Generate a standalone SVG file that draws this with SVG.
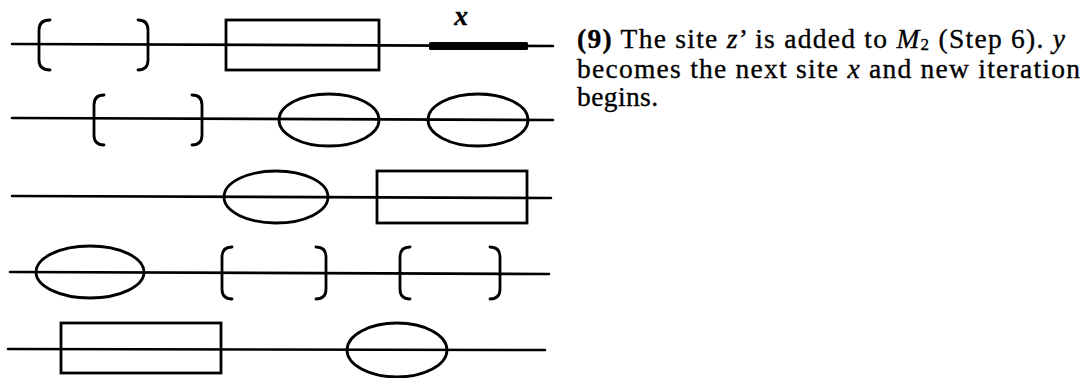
<svg xmlns="http://www.w3.org/2000/svg" width="1088" height="378" viewBox="0 0 1088 378">
  <style>
    .strand { stroke: #000; stroke-width: 2.6; fill: none; stroke-linecap: round; }
    .shape { stroke: #000; stroke-width: 2.8; fill: none; }
    .bracket { stroke: #000; stroke-width: 2.8; fill: none; stroke-linecap: round; }
    .caption { font-family: "Liberation Serif", "Times New Roman", serif; font-size: 27.5px; fill: #000; stroke: #000; stroke-width: 0.35; }
    .it { font-style: italic; }
    .bd { font-weight: bold; }
  </style>
  <rect width="1088" height="378" fill="#fff"/>

  <!-- horizontal strands -->
  <g id="connectors">
    <line class="strand" x1="12" y1="44" x2="553" y2="46"/>
    <line class="strand" x1="12" y1="118" x2="553" y2="120"/>
    <line class="strand" x1="12" y1="196" x2="551" y2="198"/>
    <line class="strand" x1="10" y1="272" x2="549" y2="274"/>
    <line class="strand" x1="8" y1="349" x2="545" y2="350"/>
  </g>

  <!-- row 1 -->
  <g id="r1-bracket-open"><path class="bracket" d="M50 20 Q39 20 39 30 L39 60 Q39 70 50 70"/></g>
  <g id="r1-bracket-close"><path class="bracket" d="M138 20 Q148 20 148 30 L148 60 Q148 70 138 70"/></g>
  <g id="r1-rect"><rect class="shape" x="226" y="20" width="153" height="50"/></g>
  <g id="r1-site-x">
    <rect x="429" y="42" width="99" height="8" rx="1.5" fill="#000"/>
    <text x="461" y="25" text-anchor="middle" class="caption it bd" font-size="27">x</text>
  </g>

  <!-- row 2 -->
  <g id="r2-bracket-open"><path class="bracket" d="M104 95 Q94 95 94 105 L94 135 Q94 145 104 145"/></g>
  <g id="r2-bracket-close"><path class="bracket" d="M192 95 Q202 95 202 105 L202 135 Q202 145 192 145"/></g>
  <g id="r2-ellipse-a"><ellipse class="shape" cx="329" cy="120" rx="50" ry="26"/></g>
  <g id="r2-ellipse-b"><ellipse class="shape" cx="478" cy="120" rx="50" ry="26"/></g>

  <!-- row 3 -->
  <g id="r3-ellipse"><ellipse class="shape" cx="276" cy="197" rx="52" ry="26"/></g>
  <g id="r3-rect"><rect class="shape" x="377" y="171" width="150" height="52"/></g>

  <!-- row 4 -->
  <g id="r4-ellipse"><ellipse class="shape" cx="90" cy="272" rx="54" ry="26"/></g>
  <g id="r4-bracket-open-a"><path class="bracket" d="M232 247 Q222 247 222 257 L222 289 Q222 299 232 299"/></g>
  <g id="r4-bracket-close-a"><path class="bracket" d="M316 247 Q326 247 326 257 L326 289 Q326 299 316 299"/></g>
  <g id="r4-bracket-open-b"><path class="bracket" d="M410 247 Q400 247 400 257 L400 289 Q400 299 410 299"/></g>
  <g id="r4-bracket-close-b"><path class="bracket" d="M490 247 Q500 247 500 257 L500 289 Q500 299 490 299"/></g>

  <!-- row 5 -->
  <g id="r5-rect"><rect class="shape" x="61" y="323" width="160" height="50"/></g>
  <g id="r5-ellipse"><ellipse class="shape" cx="397" cy="350" rx="50" ry="27"/></g>

  <!-- caption -->
  <g id="caption">
    <text class="caption" x="577" y="48" textLength="488" lengthAdjust="spacing"><tspan class="bd">(9)</tspan> The site <tspan class="it">z</tspan>’ is added to <tspan class="it">M</tspan><tspan font-size="17" dy="2">2</tspan><tspan dy="-2"> (Step 6). </tspan><tspan class="it">y</tspan></text>
    <text class="caption" x="577" y="78" textLength="503" lengthAdjust="spacing">becomes the next site <tspan class="it">x</tspan> and new iteration</text>
    <text class="caption" x="577" y="106" textLength="81" lengthAdjust="spacing">begins.</text>
  </g>
</svg>
